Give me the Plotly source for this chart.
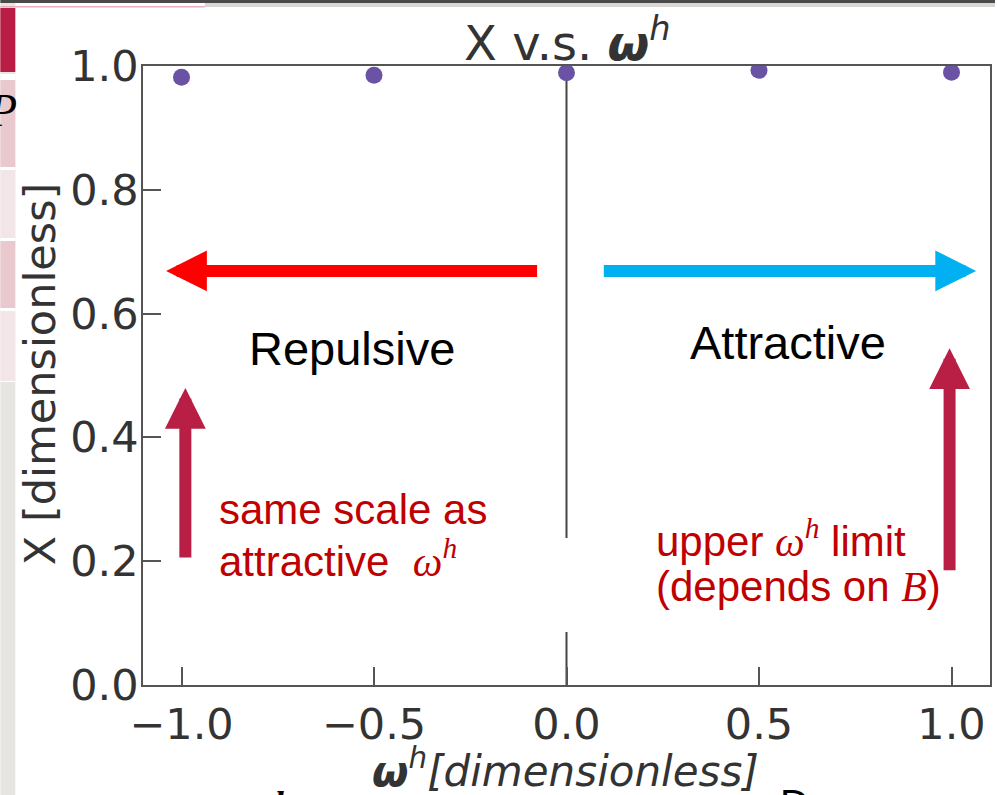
import plotly.graph_objects as go

# ---------------- data ----------------
omega_h = [-1.0, -0.5, 0.0, 0.5, 1.0]
x_values = [0.982, 0.985, 0.989, 0.993, 0.990]

x_tick_vals = [-1.0, -0.5, 0.0, 0.5, 1.0]
x_tick_text = ["\u22121.0", "\u22120.5", "0.0", "0.5", "1.0"]
y_tick_vals = [0.0, 0.2, 0.4, 0.6, 0.8, 1.0]
y_tick_text = ["0.0", "0.2", "0.4", "0.6", "0.8", "1.0"]

# vertical divider at omega_h = 0 (two segments, gap in between)
divider_x = [0.0, 0.0, None, 0.0, 0.0]
divider_y = [1.0, 0.2375, None, 0.0856, 0.0]

# arrows (tail -> tip) in data units
arrow_tail_x = [-0.0725, 0.093, -0.99, 0.995]
arrow_tail_y = [0.669, 0.669, 0.2036, 0.183]
arrow_tip_x = [-1.04, 1.064, -0.99, 0.995]
arrow_tip_y = [0.669, 0.669, 0.48, 0.544]
arrow_colors = ["#ff0000", "#00b0f0", "#b91e45", "#b91e45"]

# ---------------- geometry helpers (decoration only) ----------------
W, H = 997, 795
L, R, T, B = 143, 5, 66, 110
PW, PH = W - L - R, H - T - B


def px(xp):
    return (xp - L) / PW


def py(yp):
    return (H - B - yp) / PH


fig = go.Figure()

fig.add_trace(go.Scatter(
    x=divider_x, y=divider_y, mode="lines",
    line=dict(color="#444444", width=2), hoverinfo="skip", showlegend=False,
))

fig.add_trace(go.Scatter(
    x=omega_h, y=x_values, mode="markers",
    marker=dict(color="#6a53a4", size=17),
    cliponaxis=True, showlegend=False,
))

annotations = []

# arrows
for tx, ty, hx, hy, c in zip(arrow_tail_x, arrow_tail_y, arrow_tip_x, arrow_tip_y, arrow_colors):
    annotations.append(dict(
        x=hx, y=hy, ax=tx, ay=ty, xref="x", yref="y", axref="x", ayref="y",
        text="", showarrow=True, arrowhead=2, arrowwidth=12, arrowsize=0.68,
        arrowcolor=c, standoff=0,
    ))

black_font = dict(family="Liberation Sans, Arial", size=47, color="#000000")
red_font = dict(family="Liberation Sans, Arial", size=42, color="#c00000")
serif = "<span style=\"font-family:'Liberation Serif'\">"

annotations += [
    dict(x=-0.558, y=0.543, xref="x", yref="y", text="Repulsive", showarrow=False,
         font=black_font, xanchor="center", yanchor="middle"),
    dict(x=0.575, y=0.554, xref="x", yref="y", text="Attractive", showarrow=False,
         font=black_font, xanchor="center", yanchor="middle"),
    dict(x=-0.907, y=(685 - 509) / 619, xref="x", yref="y", text="same scale as",
         showarrow=False, font=red_font, xanchor="left", yanchor="middle"),
    dict(x=-0.907, y=(685 - 558) / 619, xref="x", yref="y",
         text="attractive  " + serif + "<i>\u03c9</i><sup><i>h</i></sup></span>",
         showarrow=False, font=red_font, xanchor="left", yanchor="middle"),
    dict(x=0.228, y=(685 - 538) / 619, xref="x", yref="y",
         text="upper " + serif + "<i>\u03c9</i><sup><i>h</i></sup></span> limit",
         showarrow=False, font=red_font, xanchor="left", yanchor="middle"),
    dict(x=0.228, y=(685 - 586) / 619, xref="x", yref="y",
         text="(depends on " + serif + "<i>B</i></span>)",
         showarrow=False, font=red_font, xanchor="left", yanchor="middle"),
]

# titles
annotations += [
    dict(x=px(569), y=py(40), xref="paper", yref="paper",
         text="X v.s. <b><i>\u03c9</i></b><sup><i>h</i></sup>", showarrow=False,
         font=dict(family="DejaVu Sans", size=48, color="#333333"),
         xanchor="center", yanchor="middle"),
    dict(x=px(566), y=py(768), xref="paper", yref="paper",
         text="<b><i>\u03c9</i></b><sup><i>h</i></sup><i>[dimensionless]</i>", showarrow=False,
         font=dict(family="DejaVu Sans", size=42, color="#333333"),
         xanchor="center", yanchor="middle"),
    dict(x=px(40), y=py(374), xref="paper", yref="paper",
         text="X [dimensionless]", showarrow=False, textangle=-90,
         font=dict(family="DejaVu Sans", size=43, color="#333333"),
         xanchor="center", yanchor="middle"),
]

# slide-surround artifacts
annotations += [
    dict(x=px(-14), y=py(110), xref="paper", yref="paper", text="<i>P</i>", showarrow=False,
         font=dict(family="Liberation Serif", size=46, color="#000000"),
         xanchor="left", yanchor="middle"),
    dict(x=px(780), y=py(780), xref="paper", yref="paper", text="D", showarrow=False,
         font=dict(family="Liberation Sans", size=40, color="#000000"),
         xanchor="left", yanchor="top"),
    dict(x=px(272), y=py(782), xref="paper", yref="paper", text="<b><i>h</i></b>", showarrow=False,
         font=dict(family="Liberation Serif", size=36, color="#000000"),
         xanchor="left", yanchor="top"),
]

shapes = []


def rect(x0, y0, x1, y1, color):
    shapes.append(dict(type="rect", xref="paper", yref="paper",
                       x0=px(x0), x1=px(x1), y0=py(y1), y1=py(y0),
                       fillcolor=color, line=dict(width=0), layer="below"))


rect(0, 0, 15, 795, "#e7e5e2")
rect(0, 8, 15, 72, "#b91c44")
rect(0, 74, 15, 382, "#ffffff")
rect(0, 80, 15, 167, "#e9c9ce")
rect(0, 170, 15, 238, "#f3e6e9")
rect(0, 241, 15, 308, "#e9c9ce")
rect(0, 311, 15, 381, "#f3e6e9")
rect(0, 0, 997, 3, "#4a4a4a")
rect(205, 3, 997, 7, "#d9d7d4")
rect(0, 6, 205, 7.5, "#e2b3be")

fig.update_layout(
    width=W, height=H,
    margin=dict(l=L, r=R, t=T, b=B),
    paper_bgcolor="#ffffff", plot_bgcolor="#ffffff",
    showlegend=False,
    annotations=annotations,
    shapes=shapes,
    xaxis=dict(
        range=[-1.1, 1.1], tickvals=x_tick_vals, ticktext=x_tick_text,
        ticks="inside", ticklen=18, tickwidth=1.5, tickcolor="#555555",
        showline=True, linecolor="#555555", linewidth=1.5, mirror=True,
        showgrid=False, zeroline=False, ticklabelstandoff=1,
        tickfont=dict(family="DejaVu Sans", size=43, color="#333333"),
    ),
    yaxis=dict(
        range=[0, 1.0], tickvals=y_tick_vals, ticktext=y_tick_text,
        ticks="inside", ticklen=18, tickwidth=1.5, tickcolor="#555555",
        showline=True, linecolor="#555555", linewidth=1.5, mirror=True,
        showgrid=False, zeroline=False, ticklabelstandoff=-6,
        tickfont=dict(family="DejaVu Sans", size=43, color="#333333"),
    ),
)

fig.write_html("out.html")
